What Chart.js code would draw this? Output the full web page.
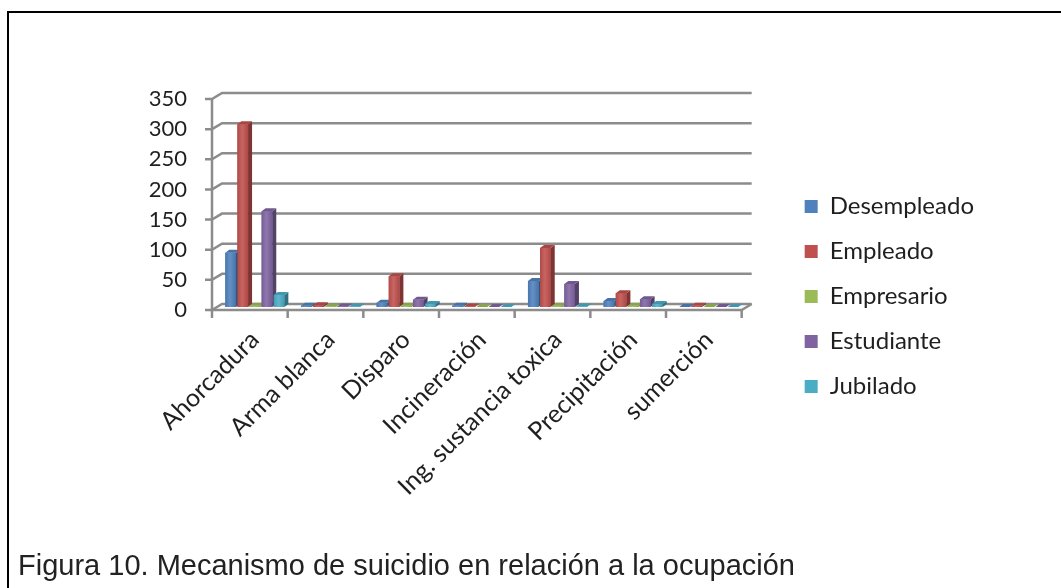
<!DOCTYPE html>
<html>
<head>
<meta charset="utf-8">
<script src="https://cdn.jsdelivr.net/npm/chart.js@4.4.1/dist/chart.umd.min.js"></script>
<style>
  html, body { margin: 0; padding: 0; background: #fff; overflow: hidden; }
  #marco { position: absolute; left: 7px; top: 11px; width: 1100px; height: 620px;
           border-top: 2px solid #000; border-left: 2px solid #000; }
  #grafico { position: absolute; left: 0; top: 0; width: 1061px; height: 588px; }
  #pie { position: absolute; left: 18px; top: 549px; font-family: "Liberation Sans", Arial, sans-serif;
         font-size: 29px; line-height: 32px; color: #222; white-space: nowrap; }
</style>
</head>
<body>
<div id="marco"></div>
<div id="grafico"><canvas id="mecanismoChart"></canvas></div>
<div id="pie">Figura 10. Mecanismo de suicidio en relación a la ocupación</div>

<script>
// Mecanismos (eje X)
const categorias = ['Ahorcadura', 'Arma blanca', 'Disparo', 'Incineración',
                    'Ing. sustancia toxica', 'Precipitación', 'sumerción'];

// Casos por ocupación
const desempleado = [90, 2, 7, 2, 43, 10, 0];
const empleado    = [303, 3, 51, 1, 98, 23, 2];
const empresario  = [2, 1, 2, 0, 2, 2, 0];
const estudiante  = [159, 1, 12, 0, 38, 13, 0];
const jubilado    = [20, 1, 5, 0, 1, 5, 0];

const ocupaciones = ['Desempleado', 'Empleado', 'Empresario', 'Estudiante', 'Jubilado'];
const valores = [desempleado, empleado, empresario, estudiante, jubilado];
const colores = ['#4F81BD', '#C0504D', '#9BBB59', '#8064A2', '#4BACC6'];

const ticksY = [0, 50, 100, 150, 200, 250, 300, 350];

// profundidad del efecto 3D
const PARED_X = 5, PARED_Y = 3;   // del plano medio a la pared del fondo
const BARRA_X = 4, BARRA_Y = 3;   // grosor de cada barra

function mezclar(hex, otro, t) {
  const a = parseInt(hex.slice(1), 16), b = parseInt(otro.slice(1), 16);
  const c = [16, 8, 0].map(s => Math.round(((a >> s) & 255) * (1 - t) + ((b >> s) & 255) * t));
  return `rgb(${c[0]},${c[1]},${c[2]})`;
}

// Paredes, rejilla y barras con volumen
const efecto3d = {
  id: 'efecto3d',
  beforeDatasetsDraw(chart) {
    const { ctx, chartArea: a, scales: { x, y } } = chart;
    ctx.save();
    ctx.strokeStyle = '#8c8c8c';
    ctx.lineWidth = 2.5;
    ticksY.forEach(v => {
      const py = y.getPixelForValue(v);
      ctx.beginPath();
      ctx.moveTo(a.left - PARED_X - 7, py + PARED_Y);
      ctx.lineTo(a.left - PARED_X, py + PARED_Y);
      ctx.lineTo(a.left + PARED_X, py - PARED_Y);
      ctx.lineTo(a.right + PARED_X, py - PARED_Y);
      ctx.stroke();
    });
    // eje vertical frontal
    ctx.beginPath();
    ctx.moveTo(a.left - PARED_X, y.getPixelForValue(350) + PARED_Y);
    ctx.lineTo(a.left - PARED_X, a.bottom + PARED_Y);
    // borde frontal del piso
    ctx.lineTo(a.right - PARED_X, a.bottom + PARED_Y);
    ctx.lineTo(a.right + PARED_X, a.bottom - PARED_Y);
    ctx.stroke();
    // marcas entre categorías
    for (let i = 0; i <= categorias.length; i++) {
      const px = x.getPixelForValue(i - 0.5) - PARED_X;
      ctx.beginPath();
      ctx.moveTo(px, a.bottom + PARED_Y);
      ctx.lineTo(px, a.bottom + PARED_Y + 8);
      ctx.stroke();
    }
    ctx.restore();
  },
  afterDatasetsDraw(chart) {
    const { ctx } = chart;
    ctx.save();
    chart.data.datasets.forEach((ds, i) => {
      const color = colores[i];
      chart.getDatasetMeta(i).data.forEach(bar => {
        const { x, y, base, width } = bar.getProps(['x', 'y', 'base', 'width'], true);
        const l = x - width / 2, r = x + width / 2;
        // cara frontal
        const g = ctx.createLinearGradient(l, 0, r, 0);
        g.addColorStop(0, mezclar(color, '#000000', 0.08));
        g.addColorStop(0.45, mezclar(color, '#ffffff', 0.12));
        g.addColorStop(1, mezclar(color, '#000000', 0.1));
        ctx.fillStyle = g;
        ctx.fillRect(l, y, width, base - y);
        // cara lateral
        ctx.fillStyle = mezclar(color, '#000000', 0.35);
        ctx.beginPath();
        ctx.moveTo(r, y);
        ctx.lineTo(r + BARRA_X, y - BARRA_Y);
        ctx.lineTo(r + BARRA_X, base - BARRA_Y);
        ctx.lineTo(r, base);
        ctx.closePath();
        ctx.fill();
        // cara superior
        ctx.fillStyle = mezclar(color, '#000000', 0.12);
        ctx.beginPath();
        ctx.moveTo(l, y);
        ctx.lineTo(l + BARRA_X, y - BARRA_Y);
        ctx.lineTo(r + BARRA_X, y - BARRA_Y);
        ctx.lineTo(r, y);
        ctx.closePath();
        ctx.fill();
      });
    });
    ctx.restore();
  }
};

Chart.defaults.font.family = 'Lato';
Chart.defaults.color = '#1f1f1f';

const ctx = document.getElementById('mecanismoChart').getContext('2d');

new Chart(ctx, {
  type: 'bar',
  data: {
    labels: categorias,
    datasets: ocupaciones.map((nombre, i) => ({
      label: nombre,
      data: valores[i],
      backgroundColor: colores[i],
      borderWidth: 0,
      categoryPercentage: 0.8,
      barPercentage: 0.88
    }))
  },
  options: {
    responsive: true,
    maintainAspectRatio: false,
    animation: false,
    layout: { padding: { left: 10, top: 96, right: 77, bottom: 91 } },
    scales: {
      x: {
        grid: { display: false, drawTicks: false },
        border: { display: false },
        ticks: { maxRotation: 45, minRotation: 45, padding: 18, font: { size: 25 } },
        afterFit: scale => { scale.height = 190; }
      },
      y: {
        min: 0,
        max: 350,
        grid: { display: false, drawTicks: false },
        border: { display: false },
        ticks: { stepSize: 50, padding: 30, labelOffset: 3, font: { size: 22 } },
        afterFit: scale => { scale.width = 207; }
      },
      y2: {
        position: 'right',
        grid: { display: false, drawTicks: false },
        border: { display: false },
        ticks: { display: false },
        afterFit: scale => { scale.width = 37; }
      }
    },
    plugins: {
      legend: {
        position: 'right',
        maxWidth: 300,
        labels: { boxWidth: 13, boxHeight: 13, padding: 21, font: { size: 24 } }
      },
      tooltip: { enabled: false }
    }
  },
  plugins: [efecto3d]
});
</script>
</body>
</html>
